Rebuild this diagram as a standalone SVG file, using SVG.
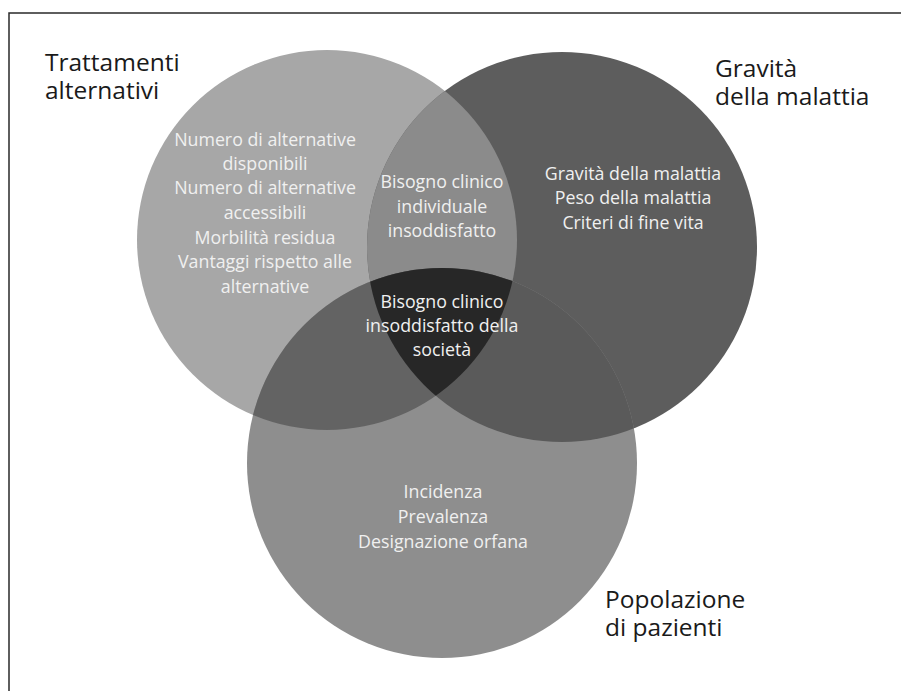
<svg xmlns="http://www.w3.org/2000/svg" width="901" height="691" viewBox="0 0 901 691">
  <style>
    .head { font-family: "Open Sans", "Noto Sans", sans-serif; font-size: 24.5px; fill: #1a1a1a; }
    .inner { font-family: "Open Sans", "Noto Sans", sans-serif; font-size: 17.8px; fill: #f0f0f0; text-anchor: middle; }
  </style>
  <defs>
    <clipPath id="clipL"><circle cx="327" cy="240" r="190"/></clipPath>
    <clipPath id="clipR"><circle cx="562" cy="247" r="195"/></clipPath>
    <clipPath id="clipB"><circle cx="442" cy="463" r="195"/></clipPath>
  </defs>

  <rect x="0" y="0" width="901" height="691" fill="#ffffff"/>
  <!-- frame -->
  <path d="M9 691 V13 H901" fill="none" stroke="#2a2a2a" stroke-width="1.5"/>

  <!-- set circles -->
  <g id="circle-trattamenti"><circle cx="327" cy="240" r="190" fill="#a7a7a7"/></g>
  <g id="circle-gravita"><circle cx="562" cy="247" r="195" fill="#5d5d5d"/></g>
  <g id="circle-popolazione"><circle cx="442" cy="463" r="195" fill="#8e8e8e"/></g>

  <!-- pairwise overlaps -->
  <g id="overlap-LR" clip-path="url(#clipL)"><circle cx="562" cy="247" r="195" fill="#8b8b8b"/></g>
  <g id="overlap-LB" clip-path="url(#clipL)"><circle cx="442" cy="463" r="195" fill="#636363"/></g>
  <g id="overlap-RB" clip-path="url(#clipR)"><circle cx="442" cy="463" r="195" fill="#5a5a5a"/></g>
  <!-- triple overlap -->
  <g id="overlap-LRB" clip-path="url(#clipL)"><g clip-path="url(#clipR)"><circle cx="442" cy="463" r="195" fill="#272727"/></g></g>

  <!-- headings -->
  <g id="label-trattamenti">
    <text class="head" x="45" y="71">Trattamenti</text>
    <text class="head" x="45" y="99">alternativi</text>
  </g>
  <g id="label-gravita">
    <text class="head" x="715" y="77">Gravità</text>
    <text class="head" x="715" y="105">della malattia</text>
  </g>
  <g id="label-popolazione">
    <text class="head" x="605" y="608">Popolazione</text>
    <text class="head" x="605" y="636">di pazienti</text>
  </g>

  <!-- contents of each region -->
  <g id="text-trattamenti">
    <text class="inner" x="265" y="146">Numero di alternative</text>
    <text class="inner" x="265" y="170">disponibili</text>
    <text class="inner" x="265" y="194">Numero di alternative</text>
    <text class="inner" x="265" y="219">accessibili</text>
    <text class="inner" x="265" y="244">Morbilità residua</text>
    <text class="inner" x="265" y="268">Vantaggi rispetto alle</text>
    <text class="inner" x="265" y="293">alternative</text>
  </g>
  <g id="text-individuale">
    <text class="inner" x="442" y="188">Bisogno clinico</text>
    <text class="inner" x="442" y="213">individuale</text>
    <text class="inner" x="442" y="237">insoddisfatto</text>
  </g>
  <g id="text-societa">
    <text class="inner" x="442" y="308">Bisogno clinico</text>
    <text class="inner" x="442" y="332">insoddisfatto della</text>
    <text class="inner" x="442" y="356">società</text>
  </g>
  <g id="text-gravita">
    <text class="inner" x="633" y="180">Gravità della malattia</text>
    <text class="inner" x="633" y="204">Peso della malattia</text>
    <text class="inner" x="633" y="229">Criteri di fine vita</text>
  </g>
  <g id="text-popolazione">
    <text class="inner" x="443" y="498">Incidenza</text>
    <text class="inner" x="443" y="523">Prevalenza</text>
    <text class="inner" x="443" y="548">Designazione orfana</text>
  </g>
</svg>
